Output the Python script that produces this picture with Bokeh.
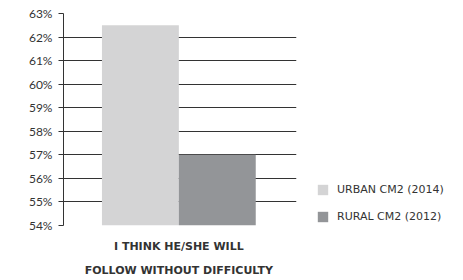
from bokeh.plotting import figure
from bokeh.models import FixedTicker, Legend, LegendItem, Range1d, ColumnDataSource
from bokeh.embed import file_html
from bokeh.resources import INLINE

series = ["URBAN CM2 (2014)", "RURAL CM2 (2012)"]
values = [62.5, 57.0]
colors = ["#d4d4d5", "#939598"]
category_label = "I THINK HE/SHE WILL\nFOLLOW WITHOUT DIFFICULTY"
y_ticks = [54, 55, 56, 57, 58, 59, 60, 61, 62, 63]
y_tick_labels = ["54%", "55%", "56%", "57%", "58%", "59%", "60%", "61%", "62%", "63%"]

FONT = "Lato"
XFONT = "DejaVu Sans"
TXT = "#333333"

p = figure(width=463, height=280, output_backend="svg", toolbar_location=None,
           x_range=Range1d(0, 3.03), y_range=Range1d(54, 63),
           frame_width=233, frame_height=212,
           min_border_left=63, min_border_right=167, min_border_top=13, min_border_bottom=55)
p.outline_line_color = None
p.background_fill_color = "white"
p.border_fill_color = "white"

src = ColumnDataSource(dict(x=[1, 2], top=values, color=colors, name=series))
r = p.vbar(x="x", top="top", bottom=54, width=1.0, fill_color="color", line_color=None, source=src)

# y axis
p.yaxis.ticker = FixedTicker(ticks=y_ticks)
p.yaxis.major_label_overrides = {t: l for t, l in zip(y_ticks, y_tick_labels)}
p.yaxis.major_label_text_font = FONT
p.yaxis.major_label_text_font_size = "12px"
p.yaxis.major_label_text_color = TXT
p.yaxis.major_tick_out = 5
p.yaxis.major_tick_in = 0
p.yaxis.minor_tick_line_color = None
p.yaxis.major_tick_line_color = "#333333"
p.yaxis.axis_line_color = "#333333"
p.yaxis.major_label_standoff = 6

# x axis
p.xaxis.ticker = FixedTicker(ticks=[1.5])
p.xaxis.major_label_overrides = {1.5: category_label}
p.xaxis.major_label_text_font = XFONT
p.xaxis.major_label_text_font_size = "11px"
p.xaxis.major_label_text_font_style = "bold"
p.xaxis.major_label_text_color = TXT
p.xaxis.major_label_text_line_height = 1.85
p.xaxis.axis_line_color = None
p.xaxis.major_tick_line_color = None
p.xaxis.minor_tick_line_color = None
p.xaxis.major_label_standoff = 8

p.xgrid.grid_line_color = None
p.ygrid.ticker = FixedTicker(ticks=y_ticks)
p.ygrid.grid_line_color = "#333333"
p.ygrid.grid_line_width = 1

items = [LegendItem(label=series[i], renderers=[r], index=i) for i in range(2)]
legend = Legend(items=items, location=(20, 2), padding=0, margin=0,
                glyph_width=13, glyph_height=13, spacing=14,
                label_text_font=XFONT, label_text_font_size="11px", label_text_color=TXT,
                label_standoff=8, border_line_color=None, background_fill_alpha=0)
p.add_layout(legend, "right")

open("out.html", "w").write(file_html(p, INLINE))
